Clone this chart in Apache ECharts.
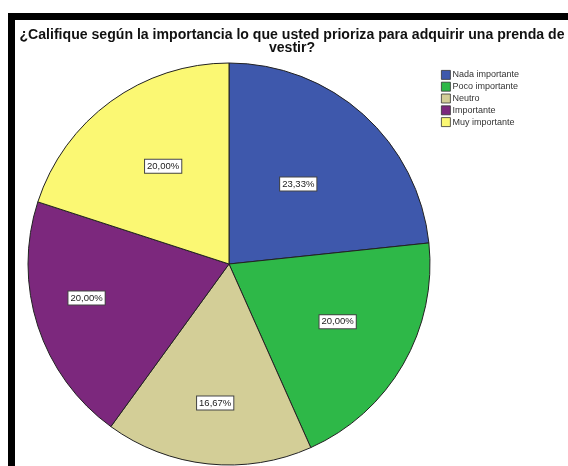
<!DOCTYPE html>
<html>
<head>
<meta charset="utf-8">
<script src="https://cdn.jsdelivr.net/npm/echarts@6/dist/echarts.min.js"></script>
<style>
html,body{margin:0;padding:0;background:#fff;}
#chart{position:absolute;left:0;top:0;width:568px;height:466px;}
#frame{position:absolute;left:8px;top:13px;width:560px;height:453px;border-left:7px solid #000;border-top:7px solid #000;box-sizing:border-box;pointer-events:none;}
</style>
</head>
<body>
<div id="chart"></div>
<div id="frame"></div>
<script>
const categories = ['Nada importante', 'Poco importante', 'Neutro', 'Importante', 'Muy importante'];
const percents = [23.33, 20.00, 16.67, 20.00, 20.00];
const colors = ['#3E58AC', '#2EB848', '#D3CE97', '#7C287D', '#FBF873'];
const labelOffsets = [[0, -3], [19, 6], [-3, 36], [-44, 2], [-5, -14]];
const titleText = '¿Califique según la importancia lo que usted prioriza para adquirir una prenda de\nvestir?';

const chart = echarts.init(document.getElementById('chart'), null, {renderer: 'canvas'});
chart.setOption({
  animation: false,
  backgroundColor: '#fff',
  title: {
    text: titleText,
    left: 287,
    top: 24,
    textAlign: 'center',
    textStyle: {fontFamily: 'Liberation Sans, Arial', fontWeight: 'bold', fontSize: 14.1, color: '#111', lineHeight: 13}
  },
  legend: {
    orient: 'vertical',
    left: 436,
    top: 65,
    itemWidth: 9,
    itemHeight: 9,
    itemGap: 2,
    icon: 'rect',
    data: categories,
    itemStyle: {borderColor: '#333', borderWidth: 0.8},
    textStyle: {fontFamily: 'Liberation Sans, Arial', fontSize: 9, color: '#333', padding: [0, 0, 0, -3]}
  },
  series: [{
    type: 'pie',
    center: [229, 264],
    radius: 201,
    startAngle: 90,
    clockwise: true,
    silent: true,
    itemStyle: {borderColor: '#222', borderWidth: 1},
    label: {
      show: true,
      position: 'inside',
      formatter: p => p.value.toFixed(2).replace('.', ',') + '%',
      fontFamily: 'Liberation Sans, Arial',
      fontSize: 9.5,
      color: '#222',
      backgroundColor: '#fff',
      borderColor: '#444',
      borderWidth: 1,
      padding: [2, 2, 1, 2]
    },
    labelLine: {show: false},
    data: categories.map((c, i) => ({
      name: c,
      value: percents[i],
      itemStyle: {color: colors[i]},
      label: {offset: labelOffsets[i]}
    }))
  }]
});
</script>
</body>
</html>
